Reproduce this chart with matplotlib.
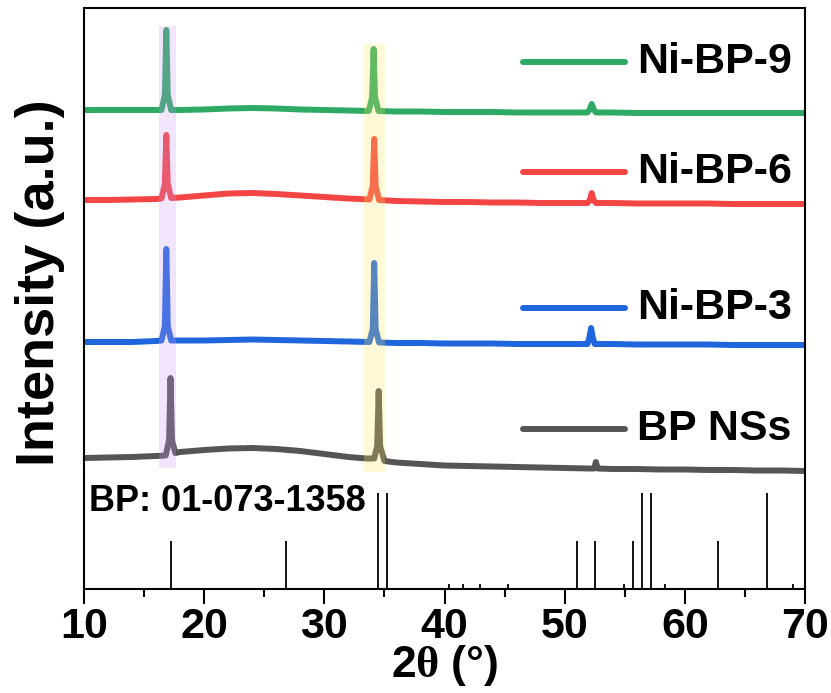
import matplotlib
matplotlib.use("Agg")
import matplotlib.pyplot as plt

plt.rcParams['font.family'] = ['Liberation Sans', 'DejaVu Sans']
plt.rcParams['font.weight'] = 'bold'
plt.rcParams['mathtext.fontset'] = 'custom'
plt.rcParams['mathtext.rm'] = 'Liberation Serif'
plt.rcParams['mathtext.it'] = 'Liberation Serif:italic'
plt.rcParams['mathtext.bf'] = 'Liberation Sans:bold'

# ---- XRD patterns (stacked, arbitrary units) ----
tt_ni9 = [10, 12, 14, 16, 16.45, 16.73, 16.85, 16.97, 17.25, 18, 20, 22, 24, 26, 28, 30, 32,
          33.7, 33.98, 34.1, 34.22, 34.5, 36, 38, 40, 42, 44, 46, 48, 50, 51.9, 52.1, 52.25,
          52.4, 52.6, 54, 56, 58, 60, 62, 64, 66, 68, 70]
int_ni9 = [370, 370, 370, 370, 370, 385, 450, 385, 370, 370, 370.5, 371.5, 372, 371.5, 370.5, 370, 369.5,
           369, 383, 431, 383, 369, 368.5, 368.5, 368, 368, 368, 367.5, 367.5, 367.5, 367.5, 371, 376,
           371, 367.5, 367.5, 367, 367, 367, 367, 367, 367, 367, 367]

tt_ni6 = [10, 12, 14, 16, 16.45, 16.73, 16.85, 16.97, 17.25, 18, 20, 22, 24, 26, 28, 30, 32,
          33.75, 34.03, 34.15, 34.27, 34.55, 36, 38, 40, 42, 44, 46, 48, 50, 51.9, 52.1, 52.25,
          52.4, 52.6, 54, 56, 58, 60, 62, 64, 66, 68, 70]
int_ni6 = [280, 280, 280.5, 281, 281.5, 296, 345, 296, 282, 282.5, 284.5, 286.5, 287, 286, 284.5, 283, 281.5,
           280.5, 294, 341, 294, 280, 279, 278.5, 278, 278, 277.5, 277.5, 277, 277, 277, 280, 287,
           280, 277, 277, 276.5, 276.5, 276.5, 276.5, 276, 276, 276, 276]

tt_ni3 = [10, 12, 14, 16, 16.45, 16.73, 16.85, 16.97, 17.25, 18, 20, 22, 24, 26, 28, 30, 32,
          33.75, 34.03, 34.15, 34.27, 34.55, 36, 38, 40, 42, 44, 46, 48, 50, 51.9, 52.05, 52.2,
          52.35, 52.5, 54, 56, 58, 60, 62, 64, 66, 68, 70]
int_ni3 = [138, 138, 138, 139, 139.5, 154, 231, 154, 139.5, 139.5, 139.5, 140, 140.5, 140, 139.5, 139, 138.5,
           138, 151, 217, 151, 137.5, 137, 137, 136.5, 136.5, 136.5, 136, 136, 136, 136, 142, 152,
           142, 136, 136, 135.5, 135.5, 135.5, 135.5, 135, 135, 135, 135]

tt_bp = [10, 12, 14, 16, 16.8, 17.08, 17.2, 17.32, 17.6, 18, 20, 22, 24, 26, 28, 30, 32, 33.5,
         34.15, 34.4, 34.52, 34.64, 35, 36, 38, 40, 42, 44, 46, 48, 50, 52, 52.45, 52.6, 52.75,
         54, 56, 58, 60, 62, 64, 66, 68, 70]
int_bp = [22, 22.5, 23, 24, 24.5, 40, 102, 40, 27, 28, 30, 31.5, 32, 31, 29, 26, 23, 21.5,
          21.5, 34, 89, 34, 19, 17.5, 16, 14.5, 14, 13.5, 13, 12.5, 12, 11.5, 11.5, 18, 11.5,
          11, 11, 10.5, 10.5, 10, 10, 9.5, 9.5, 9]

series_names = ['Ni-BP-9', 'Ni-BP-6', 'Ni-BP-3', 'BP NSs']
series_colors = ['#2eaa64', '#f44545', '#1f66dd', '#555555']
legend_y = [418, 308, 172, 51]

# highlighted reflections: (start, end, bottom, top)
band_purple = (16.24, 17.65, 12, 454)
band_yellow = (33.3, 35.05, 8, 436)

# ---- reference card BP: 01-073-1358 ----
ref_tt = [17.25, 26.85, 34.46, 35.22, 40.40, 41.55, 42.95, 45.26, 51.0, 52.5, 54.94,
          55.66, 56.41, 57.17, 58.33, 62.75, 66.81, 69.0]
ref_int = [50, 50, 100, 100, 5, 5, 5, 5, 50, 50, 5, 50, 100, 100, 5, 50, 100, 5]

W, H = 831, 693
fig = plt.figure(figsize=(W / 100, H / 100), dpi=100)
L, R = 84 / W, 805 / W
ax = fig.add_axes([L, 1 - 480 / H, R - L, (480 - 8) / H])
axr = fig.add_axes([L, 1 - 589 / H, R - L, (589 - 480) / H])

lw = 4.3
for tt, yy, c in zip([tt_ni9, tt_ni6, tt_ni3, tt_bp], [int_ni9, int_ni6, int_ni3, int_bp], series_colors):
    ax.plot(tt, yy, color=c, lw=lw, solid_joinstyle='round', solid_capstyle='round', zorder=2)

for (x0, x1, y0, y1), fc in [(band_purple, '#c79af2'), (band_yellow, '#ffe960')]:
    ax.fill_between([x0, x1], [y0, y0], [y1, y1], color=fc, alpha=0.25, lw=0, zorder=3)

# series labels with short line keys
for name, c, ly in zip(series_names, series_colors, legend_y):
    ax.plot([46.5, 55.0], [ly, ly], color=c, lw=lw, solid_capstyle='round', zorder=4)
    ax.text(56.0, ly, name, fontsize=31, fontweight='bold', va='center', ha='left', zorder=5)

ax.set_xlim(10, 70)
ax.set_ylim(0, 472)
ax.set_xticks([])
ax.set_yticks([])
ax.spines['bottom'].set_visible(False)
for s in ['left', 'right', 'top']:
    ax.spines[s].set_linewidth(1.5)
ax.set_facecolor('none')

axr.vlines(ref_tt, 0, ref_int, color='black', lw=1.3)
axr.set_xlim(10, 70)
axr.set_ylim(0, 113.6)
axr.set_yticks([])
axr.spines['top'].set_visible(False)
for s in ['left', 'right', 'bottom']:
    axr.spines[s].set_linewidth(1.5)
axr.set_xticks([10, 20, 30, 40, 50, 60, 70])
axr.set_xticks([15, 25, 35, 45, 55, 65], minor=True)
axr.tick_params(axis='x', which='major', length=11, width=1.5, pad=2, labelsize=31)
axr.tick_params(axis='x', which='minor', length=6, width=1.5)
for lab in axr.get_xticklabels():
    lab.set_fontweight('bold')
axr.text(10.45, 109, 'BP: 01-073-1358', fontsize=26, fontweight='bold', va='top', ha='left')
axr.set_xlabel(r'$\mathbf{2}\mathrm{\theta}\ \mathbf{(°)}$', fontsize=32, labelpad=-3)

fig.text(40 / W, 1 - 283 / H, 'Intensity (a.u.)', rotation=90, fontsize=39,
         fontweight='bold', ha='center', va='center')

fig.savefig('out.png', dpi=100, facecolor='white')
